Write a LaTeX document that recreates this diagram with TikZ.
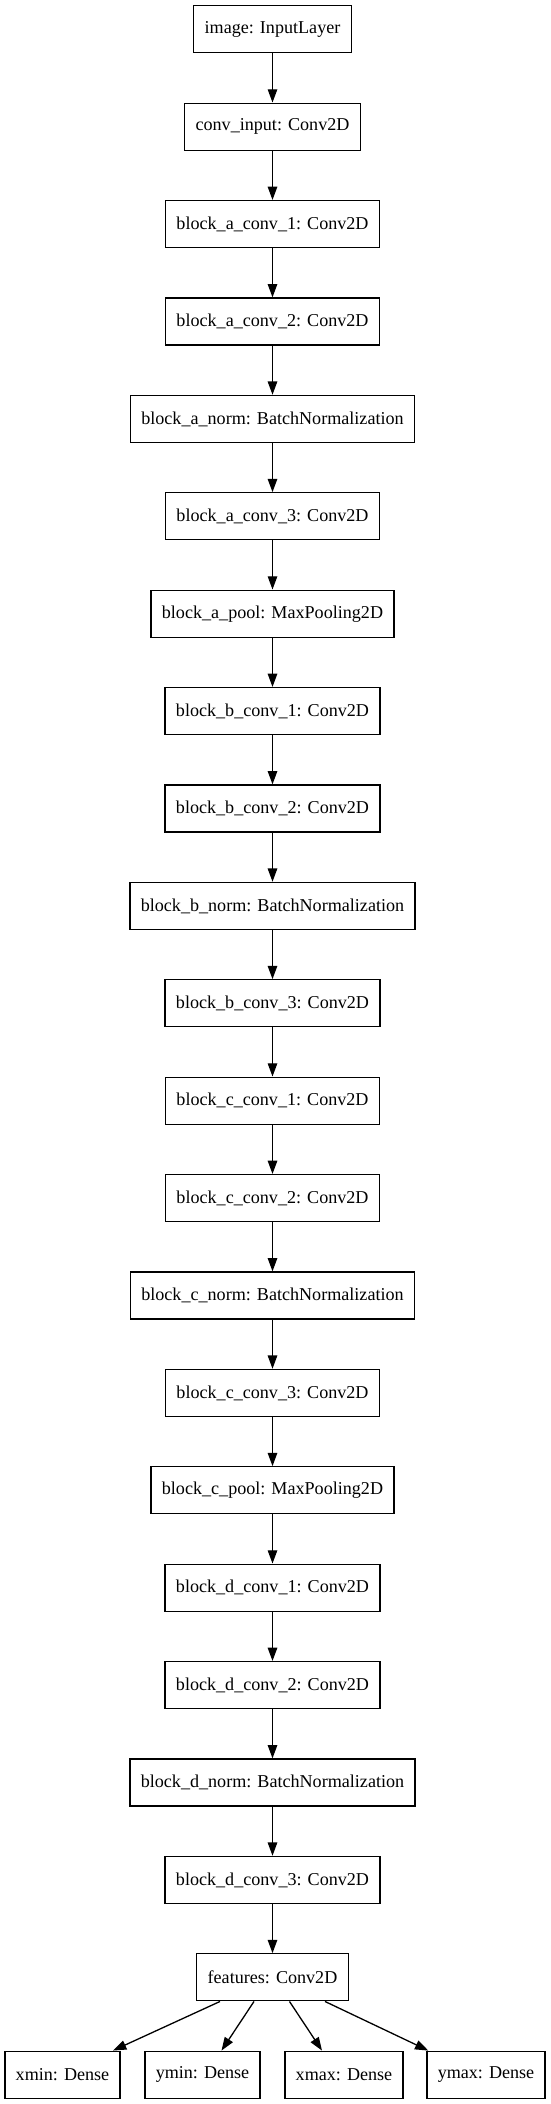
\documentclass[tikz,border=0pt]{standalone}
\usepackage{fontspec}
\setmainfont{Liberation Serif}
\usetikzlibrary{arrows.meta,calc}
\begin{document}
\begin{tikzpicture}[x=1pt,y=1pt,
  layer/.style={draw=black, line width=1.3pt, rectangle, minimum height=47pt,
    inner xsep=10.85pt, inner ysep=0pt, font=\fontsize{18.1}{22}\selectfont},
  flow/.style={-{Triangle[length=13.3pt,width=9.5pt]}, line width=1.3pt}]
\useasboundingbox (0,0) rectangle (550,-2104);
\foreach \name/\txt [count=\k from 0] in {
  image/{image: InputLayer},
  convinput/{conv\_input: Conv2D},
  aconvA/{block\_a\_conv\_1: Conv2D},
  aconvB/{block\_a\_conv\_2: Conv2D},
  anorm/{block\_a\_norm: BatchNormalization},
  aconvC/{block\_a\_conv\_3: Conv2D},
  apool/{block\_a\_pool: MaxPooling2D},
  bconvA/{block\_b\_conv\_1: Conv2D},
  bconvB/{block\_b\_conv\_2: Conv2D},
  bnorm/{block\_b\_norm: BatchNormalization},
  bconvC/{block\_b\_conv\_3: Conv2D},
  cconvA/{block\_c\_conv\_1: Conv2D},
  cconvB/{block\_c\_conv\_2: Conv2D},
  cnorm/{block\_c\_norm: BatchNormalization},
  cconvC/{block\_c\_conv\_3: Conv2D},
  cpool/{block\_c\_pool: MaxPooling2D},
  dconvA/{block\_d\_conv\_1: Conv2D},
  dconvB/{block\_d\_conv\_2: Conv2D},
  dnorm/{block\_d\_norm: BatchNormalization},
  dconvC/{block\_d\_conv\_3: Conv2D},
  features/{features: Conv2D}}
  \node[layer] (\name) at (272.5,{-(29.3+97.4*\k)}) {\txt};

\foreach \a/\b in {image/convinput, convinput/aconvA, aconvA/aconvB, aconvB/anorm,
  anorm/aconvC, aconvC/apool, apool/bconvA, bconvA/bconvB, bconvB/bnorm,
  bnorm/bconvC, bconvC/cconvA, cconvA/cconvB, cconvB/cnorm, cnorm/cconvC,
  cconvC/cpool, cpool/dconvA, dconvA/dconvB, dconvB/dnorm, dnorm/dconvC,
  dconvC/features}
  \draw[flow] (\a) -- (\b);

\node[layer] (xmin) at (62.5,-2074.7) {xmin: Dense};
\node[layer] (ymin) at (202.5,-2074.7) {ymin: Dense};
\node[layer] (xmax) at (344,-2074.7) {xmax: Dense};
\node[layer] (ymax) at (486,-2074.7) {ymax: Dense};

\draw[flow] ($(features.south)+(-52.5,0)$) -- ($(xmin.north)+(50.5,0)$);
\draw[flow] ($(features.south)+(-18.5,0)$) -- ($(ymin.north)+(19,0)$);
\draw[flow] ($(features.south)+(17,0)$) -- ($(xmax.north)+(-22,0)$);
\draw[flow] ($(features.south)+(52.5,0)$) -- ($(ymax.north)+(-57.7,0)$);
\end{tikzpicture}
\end{document}
